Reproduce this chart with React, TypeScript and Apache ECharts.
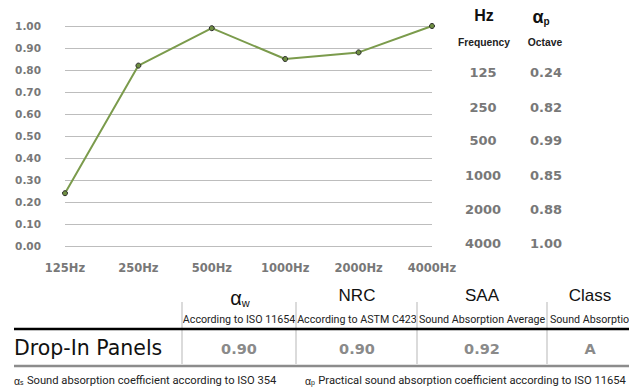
import React, { useEffect, useRef } from "react";
import * as echarts from "echarts";

const categories = ["125Hz", "250Hz", "500Hz", "1000Hz", "2000Hz", "4000Hz"];
const frequencies = ["125", "250", "500", "1000", "2000", "4000"];
const alphaP = [0.24, 0.82, 0.99, 0.85, 0.88, 1.0];
const tableHeads = ["NRC", "SAA", "Class"];
const tableSubs = ["According to ISO 11654", "According to ASTM C423", "Sound Absorption Average", "Sound Absorption Class"];
const tableValues = ["0.90", "0.90", "0.92", "A"];
const productName = "Drop-In Panels";
const footnotes = [
  ["s", "Sound absorption coefficient according to ISO 354"],
  ["p", "Practical sound absorption coefficient according to ISO 11654"],
];

const GRAY = "#787878";
const NUM = "DejaVu Sans";
const SANS = "Liberation Sans";

export default function App() {
  const ref = useRef<HTMLDivElement>(null);
  useEffect(() => {
    const chart = echarts.init(ref.current!, null, { renderer: "svg" });
    const rowYs = [72, 107, 140, 175, 209, 243];
    const colX = [239, 357, 482, 590];
    const dividers = [182, 296, 417, 547];
    const subX = [239, 357, 482, 607];
    const g: any[] = [];
    // right table header
    g.push({ type: "text", x: 484, y: 15, style: { text: "Hz", fontFamily: SANS, fontWeight: "bold", fontSize: 16, fill: "#111", textAlign: "center", textVerticalAlign: "middle" } });
    g.push({
      type: "text", x: 541, y: 17,
      style: {
        text: "{a|α}{b|p}", textAlign: "center", textVerticalAlign: "middle",
        rich: {
          a: { fontFamily: SANS, fontWeight: "bold", fontSize: 18, fill: "#111", verticalAlign: "bottom" },
          b: { fontFamily: SANS, fontWeight: "bold", fontSize: 10, fill: "#111", verticalAlign: "bottom" },
        },
      },
    });
    g.push({ type: "text", x: 484, y: 42, style: { text: "Frequency", fontFamily: SANS, fontWeight: "bold", fontSize: 10.3, fill: "#222", textAlign: "center", textVerticalAlign: "middle" } });
    g.push({ type: "text", x: 545, y: 42, style: { text: "Octave", fontFamily: SANS, fontWeight: "bold", fontSize: 10.3, fill: "#222", textAlign: "center", textVerticalAlign: "middle" } });
    frequencies.forEach((f, i) => {
      g.push({ type: "text", x: 483, y: rowYs[i], style: { text: f, fontFamily: NUM, fontWeight: "bold", fontSize: 13, fill: GRAY, textAlign: "center", textVerticalAlign: "middle" } });
      g.push({ type: "text", x: 546, y: rowYs[i], style: { text: alphaP[i].toFixed(2), fontFamily: NUM, fontWeight: "bold", fontSize: 13, fill: GRAY, textAlign: "center", textVerticalAlign: "middle" } });
    });
    // bottom table
    g.push({
      type: "text", x: 240, y: 298,
      style: {
        text: "{a|α}{b|w}", textAlign: "center", textVerticalAlign: "middle",
        rich: {
          a: { fontFamily: SANS, fontSize: 20, fill: "#111", verticalAlign: "bottom" },
          b: { fontFamily: SANS, fontSize: 11, fill: "#111", verticalAlign: "bottom" },
        },
      },
    });
    tableHeads.forEach((h, i) => {
      g.push({ type: "text", x: colX[i + 1], y: 295, style: { text: h, fontFamily: SANS, fontSize: 17, fill: "#111", textAlign: "center", textVerticalAlign: "middle" } });
    });
    tableSubs.forEach((s, i) => {
      g.push({ type: "text", x: subX[i], y: 319, style: { text: s, fontFamily: "Roboto", fontSize: 10.7, fill: "#222", textAlign: "center", textVerticalAlign: "middle" } });
    });
    dividers.forEach((x) => {
      g.push({ type: "line", shape: { x1: x, y1: 302, x2: x, y2: 364 }, style: { stroke: "#cfcfcf", lineWidth: 1.5 } });
    });
    g.push({ type: "line", shape: { x1: 14, y1: 329, x2: 629, y2: 329 }, style: { stroke: "#000", lineWidth: 2.5 } });
    g.push({ type: "line", shape: { x1: 14, y1: 366, x2: 629, y2: 366 }, style: { stroke: "#8c8c8c", lineWidth: 2.5 } });
    g.push({ type: "text", x: 14, y: 348, style: { text: productName, fontFamily: "DejaVu Sans", fontSize: 20.5, fill: "#111", textAlign: "left", textVerticalAlign: "middle" } });
    tableValues.forEach((v, i) => {
      g.push({ type: "text", x: colX[i], y: 349, style: { text: v, fontFamily: NUM, fontWeight: "bold", fontSize: 14.5, fill: "#8a8a8a", textAlign: "center", textVerticalAlign: "middle" } });
    });
    const fnX = [14, 305];
    footnotes.forEach(([sub, t], i) => {
      g.push({
        type: "text", x: fnX[i], y: 380,
        style: {
          text: `{a|α}{b|${sub}} {c|${t}}`, textAlign: "left", textVerticalAlign: "middle",
          rich: {
            a: { fontFamily: SANS, fontSize: 10.5, fill: "#222", verticalAlign: "bottom" },
            b: { fontFamily: SANS, fontSize: 7, fill: "#222", verticalAlign: "bottom" },
            c: { fontFamily: "Roboto", fontSize: 11.2, fill: "#222", verticalAlign: "bottom" },
          },
        },
      });
    });

    chart.setOption({
      animation: false,
      grid: { left: 65, right: 197, top: 26, bottom: 143, containLabel: false },
      xAxis: {
        type: "category",
        data: categories,
        boundaryGap: false,
        axisLine: { show: false },
        axisTick: { show: false },
        axisLabel: { color: GRAY, fontFamily: NUM, fontWeight: "bold", fontSize: 11.5, margin: 16 },
        splitLine: { show: false },
      },
      yAxis: {
        type: "value",
        min: 0,
        max: 1,
        interval: 0.1,
        axisLine: { show: false },
        axisTick: { show: false },
        axisLabel: { color: GRAY, fontFamily: NUM, fontWeight: "bold", fontSize: 10.5, margin: 24, formatter: (v: number) => v.toFixed(2) },
        splitLine: { lineStyle: { color: "#bdbdbd", width: 1.2 } },
      },
      series: [
        {
          type: "line",
          data: alphaP,
          symbol: "circle",
          symbolSize: 5,
          lineStyle: { color: "#7b9b4c", width: 2 },
          itemStyle: { color: "#6f8f42", borderColor: "#2a2a2a", borderWidth: 1 },
        },
      ],
      graphic: g,
    });
    return () => chart.dispose();
  }, []);
  return <div ref={ref} style={{ position: "absolute", left: 0, top: 0, width: 629, height: 389 }} />;
}
